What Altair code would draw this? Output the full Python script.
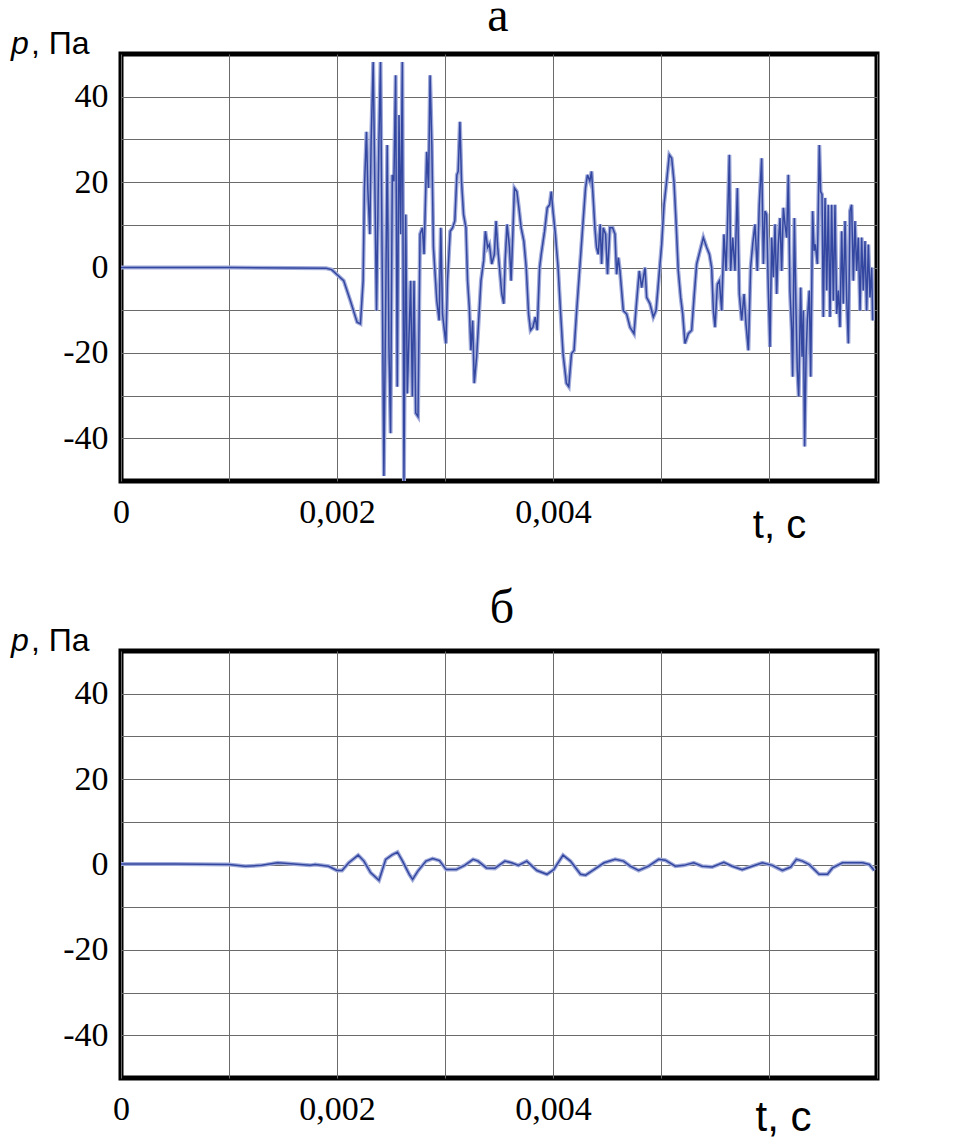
import altair as alt
import pandas as pd

# ---- Panel "а": time (ms) and pressure (Pa) ----
top_t_ms = [
    0.0, 1.0, 1.9, 1.95,
    2.062, 2.124, 2.186, 2.217, 2.242, 2.254, 2.273, 2.285, 2.304, 2.316, 2.335, 2.350,
    2.366, 2.388, 2.403, 2.419, 2.434, 2.450, 2.465, 2.481, 2.496, 2.512, 2.527, 2.543,
    2.558, 2.574, 2.589, 2.605, 2.620, 2.636, 2.651, 2.682, 2.698, 2.713, 2.729, 2.750,
    2.769, 2.791, 2.806, 2.831, 2.847, 2.862, 2.878, 2.893, 2.924, 2.946, 2.961, 2.977,
    3.008, 3.023, 3.048, 3.070, 3.091, 3.110, 3.122, 3.138, 3.153, 3.172, 3.194, 3.209,
    3.225, 3.240, 3.256, 3.271, 3.293, 3.312, 3.333, 3.358, 3.374, 3.395, 3.411, 3.433,
    3.457, 3.473, 3.488, 3.510, 3.526, 3.544, 3.557, 3.575, 3.597, 3.612, 3.628, 3.643,
    3.665, 3.684, 3.705, 3.730, 3.752, 3.774, 3.792, 3.814, 3.836, 3.854, 3.876, 3.891,
    3.922, 3.947, 3.969, 3.984, 4.000, 4.022, 4.047, 4.071, 4.093, 4.124, 4.146, 4.171,
    4.195, 4.217, 4.248, 4.279, 4.301, 4.319, 4.341, 4.357, 4.372, 4.388, 4.403, 4.419,
    4.437, 4.450, 4.465, 4.487, 4.505, 4.527, 4.552, 4.574, 4.589, 4.605, 4.620, 4.651,
    4.682, 4.713,
    4.750, 4.775, 4.799, 4.821, 4.852, 4.867, 4.898, 4.929, 4.954, 4.975, 5.006, 5.028,
    5.052, 5.077, 5.099, 5.120, 5.139, 5.160, 5.182, 5.201, 5.222, 5.253, 5.284, 5.306,
    5.330, 5.361, 5.392, 5.423, 5.448, 5.469, 5.485, 5.500, 5.522, 5.540, 5.562, 5.583,
    5.602, 5.614, 5.633, 5.645, 5.664, 5.685, 5.707, 5.725, 5.747, 5.769, 5.787, 5.809,
    5.830, 5.849, 5.870, 5.892, 5.910, 5.932, 5.948, 5.963, 5.978, 5.994, 6.009, 6.025,
    6.040, 6.056, 6.071, 6.086, 6.102, 6.117, 6.133, 6.148, 6.164, 6.179, 6.194, 6.210,
    6.219, 6.235, 6.250, 6.262, 6.275, 6.293, 6.306, 6.318, 6.330, 6.343, 6.355, 6.373,
    6.386, 6.404, 6.417, 6.429, 6.448, 6.466, 6.478, 6.491, 6.503, 6.519, 6.534, 6.549,
    6.565, 6.580, 6.596, 6.611, 6.627, 6.642, 6.657, 6.673, 6.688, 6.704, 6.719, 6.735,
    6.750, 6.765, 6.781, 6.796, 6.812, 6.827, 6.843, 6.858, 6.873, 6.889, 6.904, 6.920,
    6.935, 6.951, 6.960,
]
top_p = [
    0.0, 0.0, -0.2, -0.5,
    -3.1, -7.8, -12.8, -13.2, -3.1, 18.6, 31.8, 18.6, 7.8, 29.5, 48.1, 20.2,
    -10.1, 29.5, 48.1, -1.6, -48.8, -10.9, 28.7, -18.6, -38.8, 21.7, 20.2, 45.0,
    -27.9, 35.7, 7.8, 48.1, -50.0, 12.4, -29.5, -3.1, -30.2, -3.1, -34.1, -34.9,
    7.8, 9.3, 3.1, 27.1, 18.6, 45.0, 28.7, 4.7, -7.8, -12.4, 9.3, -10.9,
    -17.8, -3.1, 8.5, 9.3, 10.9, 21.7, 22.5, 34.1, 20.2, 12.4, 9.3, -3.1,
    -9.3, -19.4, -12.4, -27.1, -20.9, -12.4, -3.1, 1.6, 8.5, 4.7, 5.4, 0.8,
    3.1, 10.9, 4.7, -1.6, -6.2, -8.5, 1.6, 10.1, 4.7, -3.1, 7.8, 18.6,
    17.8, 14.0, 9.3, 6.2, 0.0, -10.9, -14.7, -14.0, -11.6, -14.7, 0.0, 3.1,
    8.5, 14.0, 14.7, 17.8, 13.2, 7.8, 0.0, -10.9, -20.2, -27.1, -27.9, -20.2,
    -19.4, -10.9, 0.0, 10.9, 18.6, 21.7, 20.2, 22.5, 16.3, 9.3, 4.7, 3.1,
    10.1, 0.8, 9.3, 7.8, -1.6, 9.3, 9.3, 7.8, -1.6, 2.3, -0.8, -10.1,
    -10.9, -14.0,
    -15.5, -7.8, -0.8, -4.7, 0.0, -7.0, -8.5, -11.6, -10.1, -3.9, 5.4, 14.7,
    20.2, 26.4, 25.6, 20.2, 10.9, -0.8, -7.0, -10.9, -17.8, -15.5, -14.7, -7.0,
    0.8, 3.9, 7.0, 4.7, 3.1, 0.0, -10.1, -14.0, -3.9, -3.1, -10.1, 7.8,
    -0.8, 8.5, 26.4, -0.8, 7.0, -0.8, 18.6, -6.2, -12.4, -6.2, -13.2, -19.4,
    0.0, 5.4, 10.1, -0.8, 14.7, 25.6, 0.8, 13.2, 12.4, -5.4, -18.6, 7.0,
    -2.3, 10.1, -6.2, 5.4, 11.6, -0.8, 14.0, 10.1, 7.0, 21.7, -5.4, -14.7,
    -25.6, 11.6, -10.1, -24.0, -30.2, -4.7, -20.9, -10.1, -41.9, -20.9, -12.4, -5.4,
    -25.6, 13.2, 3.9, 5.4, 0.8, 28.7, 17.8, 17.1, -11.6, 16.3, -5.4, 14.7,
    -11.6, 14.7, -7.8, 14.7, -10.9, -5.4, -14.0, 8.5, -8.5, 10.9, -7.0, -17.8,
    13.2, 14.7, -3.1, 10.9, -0.8, 7.0, -10.1, 7.0, -5.4, 6.2, -10.1, 5.4,
    -7.0, 0.0, -12.4,
]

# ---- Panel "б" ----
bot_t_ms = [
    0.0, 0.5, 1.0, 1.15, 1.3, 1.45, 1.6, 1.75, 1.798, 1.922,
    2.000, 2.047, 2.109, 2.196, 2.249, 2.311, 2.389, 2.451, 2.513, 2.560,
    2.607, 2.669, 2.700, 2.747, 2.824, 2.886, 2.949, 3.011, 3.104, 3.182,
    3.260, 3.306, 3.384, 3.462, 3.555, 3.617, 3.680, 3.757, 3.851, 3.944,
    4.006, 4.093, 4.162, 4.255, 4.302, 4.379, 4.473, 4.576, 4.653, 4.715,
    4.793, 4.885, 4.978, 5.040, 5.133, 5.211, 5.303, 5.381, 5.474, 5.582,
    5.659, 5.752, 5.845, 5.938, 6.031, 6.124, 6.201, 6.254, 6.310, 6.372,
    6.464, 6.542, 6.588, 6.681, 6.774, 6.867, 6.929, 6.975,
]
bot_p = [
    0.1, 0.1, 0.0, -0.4, -0.2, 0.4, 0.1, -0.2, 0.0, -0.4,
    -1.4, -1.4, 0.4, 2.2, 0.8, -1.9, -3.7, 1.2, 2.3, 2.9,
    0.8, -2.3, -3.5, -1.6, 0.8, 1.4, 0.9, -1.2, -1.2, -0.2,
    1.2, 0.8, -0.8, -0.9, 0.8, 0.4, -0.2, 0.8, -1.4, -2.3,
    -1.2, 2.2, 0.8, -2.3, -2.5, -1.2, 0.4, 1.2, 0.8, -0.4,
    -1.4, -0.4, 1.2, 1.0, -0.4, -0.2, 0.4, -0.4, -0.6, 0.5,
    -0.4, -1.2, -0.4, 0.4, -0.2, -1.4, -0.6, 1.2, 0.8, 0.0,
    -2.3, -2.3, -0.8, 0.4, 0.4, 0.4, 0.0, -1.4,
]

x_ticks = [0, 0.001, 0.002, 0.003, 0.004, 0.005, 0.006, 0.007]
y_ticks = [-40, -30, -20, -10, 0, 10, 20, 30, 40]

GRID = "#6a6a6a"
SERIF = "Liberation Serif"
SANS = "Liberation Sans"
W, H = 756, 427


def panel(t_ms, p, letter, letter_x, letter_y, x_title_x, x_title_y, x_title_size):
    df = pd.DataFrame({"t": [v / 1000.0 for v in t_ms], "p": p})
    x = alt.X(
        "t:Q",
        scale=alt.Scale(domain=[0, 0.007], nice=False, zero=False),
        axis=alt.Axis(
            values=x_ticks, grid=True, gridColor=GRID, gridWidth=1, ticks=False,
            domain=False, labelFont=SERIF, labelFontSize=34, labelColor="black",
            labelPadding=14, labelFlush=False, labelOverlap=False, labelBound=False,
            labelExpr="round(datum.value*1000) == 0 ? '0' : (round(datum.value*1000) == 2 ? '0,002' : (round(datum.value*1000) == 4 ? '0,004' : ''))",
            title="t, с", titleFont=SANS, titleFontSize=x_title_size, titleFontWeight="normal",
            titleColor="black", titleX=x_title_x, titleY=x_title_y, titleAlign="center",
            titleBaseline="alphabetic",
        ),
    )
    y = alt.Y(
        "p:Q",
        scale=alt.Scale(domain=[-50, 50], nice=False, zero=False),
        axis=alt.Axis(
            values=y_ticks, grid=True, gridColor=GRID, gridWidth=1, ticks=False,
            domain=False, labelFont=SERIF, labelFontSize=34, labelColor="black",
            labelPadding=13, labelOverlap=False,
            labelExpr="datum.value % 20 == 0 ? toString(datum.value) : ''",
            title="",
        ),
    )
    base = alt.Chart(df)
    halo = base.mark_line(color="#a1abda", strokeWidth=4, clip=True).encode(x=x, y=y)
    core = base.mark_line(color="#3447a0", strokeWidth=1.5, clip=True).encode(x=x, y=y)
    one = pd.DataFrame({"k": [0]})
    ptxt = alt.Chart(one).mark_text(
        text="p", font=SANS, fontSize=32, fontStyle="italic", align="left",
        baseline="alphabetic", color="black",
    ).encode(x=alt.value(-110), y=alt.value(0))
    patxt = alt.Chart(one).mark_text(
        text=", Па", font=SANS, fontSize=32, align="left",
        baseline="alphabetic", color="black",
    ).encode(x=alt.value(-90), y=alt.value(0))
    ttl = alt.Chart(one).mark_text(
        text=letter, font=SERIF, fontSize=48, align="center",
        baseline="alphabetic", color="black",
    ).encode(x=alt.value(letter_x), y=alt.value(letter_y))
    return alt.layer(halo, core, ptxt, patxt, ttl).properties(width=W, height=H)


top = panel(top_t_ms, top_p, "а", 377, -23, 658, 56, 40)
bottom = panel(bot_t_ms, bot_p, "б", 381, -28, 662, 52, 42)

chart = (
    alt.vconcat(top, bottom, spacing=34)
    .properties(padding={"left": 0, "top": -18, "right": 0, "bottom": 0}, background="white")
    .configure_view(stroke="black", strokeWidth=5)
)

chart.save("out.html", embed_options={"renderer": "svg", "actions": False})
